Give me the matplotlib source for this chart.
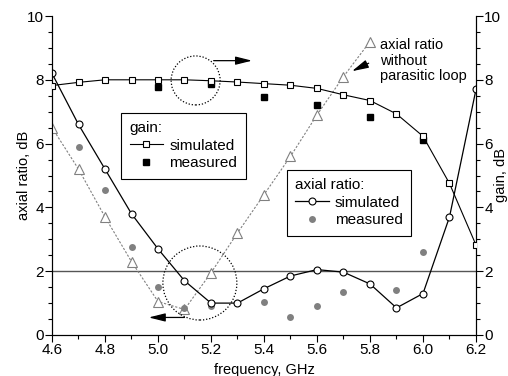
import matplotlib
matplotlib.use("Agg")
import matplotlib.pyplot as plt
from matplotlib.lines import Line2D
from matplotlib.patches import Ellipse

plt.rcParams['font.family'] = ['Liberation Sans', 'DejaVu Sans']

freq = [4.6, 4.7, 4.8, 4.9, 5.0, 5.1, 5.2, 5.3, 5.4, 5.5, 5.6, 5.7, 5.8, 5.9, 6.0, 6.1, 6.2]
ar_sim = [8.2, 6.6, 5.2, 3.8, 2.7, 1.7, 1.0, 1.0, 1.45, 1.85, 2.05, 1.97, 1.6, 0.85, 1.3, 3.7, 7.7]

freq_ar_meas = [4.7, 4.8, 4.9, 5.0, 5.1, 5.2, 5.3, 5.4, 5.5, 5.6, 5.7, 5.8, 5.9, 6.0]
ar_meas = [5.9, 4.55, 2.75, 1.5, 0.85, 0.9, 1.0, 1.05, 0.55, 0.92, 1.35, 1.6, 1.4, 2.6]

freq_noloop = [4.6, 4.7, 4.8, 4.9, 5.0, 5.1, 5.2, 5.3, 5.4, 5.5, 5.6, 5.7, 5.8]
ar_noloop = [6.5, 5.2, 3.7, 2.3, 1.05, 0.8, 1.95, 3.2, 4.4, 5.6, 6.9, 8.1, 9.2]

gain_sim = [7.82, 7.92, 8.0, 8.0, 8.0, 8.0, 7.97, 7.93, 7.88, 7.83, 7.73, 7.53, 7.35, 6.93, 6.23, 4.75, 2.82]

freq_gain_meas = [5.0, 5.2, 5.4, 5.6, 5.8, 6.0]
gain_meas = [7.77, 7.87, 7.47, 7.22, 6.82, 6.1]

xticks = [4.6, 4.8, 5.0, 5.2, 5.4, 5.6, 5.8, 6.0, 6.2]
yticks = [0, 2, 4, 6, 8, 10]

fig = plt.figure(figsize=(5.08, 3.76), dpi=100)
ax = fig.add_axes([52/508, 41/376, 424/508, 319/376])
ax2 = ax.twinx()

gray = '#808080'
ax.axhline(2, color='#555555', lw=1.0, zorder=1)

ax.plot(freq_noloop, ar_noloop, ls=(0, (2, 1.5)), color=gray, lw=0.8,
        marker='^', ms=6.5, mfc='white', mec=gray, mew=0.8, zorder=3)
ax.plot(freq, ar_sim, '-', color='black', lw=0.9,
        marker='o', ms=5, mfc='white', mec='black', mew=0.8, zorder=5)
ax.plot(freq_ar_meas, ar_meas, 'o', color=gray, ms=5, mec='none', zorder=4)

ax2.plot(freq, gain_sim, '-', color='black', lw=0.8,
         marker='s', ms=4, mfc='white', mec='black', mew=0.8, zorder=5)
ax2.plot(freq_gain_meas, gain_meas, 's', color='black', ms=4.5, zorder=4)

for a in (ax, ax2):
    a.set_xlim(4.6, 6.2)
    a.set_ylim(0, 10)
    a.set_yticks(yticks)
    a.set_yticks([i * 0.5 for i in range(21)], minor=True)
    a.tick_params(axis='both', which='major', direction='out', length=5, width=0.8, labelsize=11, pad=1)
    a.tick_params(axis='both', which='minor', direction='out', length=3, width=0.8)
    for s in a.spines.values():
        s.set_linewidth(0.8)
ax.set_xticks(xticks)
ax.set_xticklabels(['%.1f' % t for t in xticks])
ax.set_xticks([4.6 + 0.1 * i for i in range(17)], minor=True)
ax.set_yticklabels([str(t) for t in yticks])
ax2.set_yticklabels([str(t) for t in yticks])
ax.spines['top'].set_visible(False)
ax2.spines['top'].set_visible(False)

ax.set_xlabel('frequency, GHz', fontsize=10.5, labelpad=4)
ax.set_ylabel('axial ratio, dB', fontsize=10.5)
ax2.set_ylabel('gain, dB', fontsize=10.5)
ax.yaxis.set_label_coords(-0.0495, 0.5)
ax2.yaxis.set_label_coords(1.0425, 0.5)

# dotted circles
ax2.add_patch(Ellipse((5.142, 7.98), 2 * 24.5 / 265, 2 * 24.5 / 31.9, fill=False,
                      ls=(0, (1, 1.5)), lw=0.9, color='black', zorder=6))
ax.add_patch(Ellipse((5.158, 1.63), 2 * 37 / 265, 2 * 37 / 31.9, fill=False,
                     ls=(0, (1, 1.5)), lw=0.9, color='black', zorder=6))

arrow = dict(arrowstyle='-|>,head_length=1.0,head_width=0.25', color='black', lw=0.9, shrinkA=0, shrinkB=0)
ax2.annotate('', xy=(5.355, 8.6), xytext=(5.21, 8.6), arrowprops=arrow)
ax.annotate('', xy=(4.965, 0.55), xytext=(5.10, 0.55), arrowprops=arrow)
ax.annotate('', xy=(5.732, 8.27), xytext=(5.795, 8.52), arrowprops=arrow)
ax.text(5.837, 9.3, 'axial ratio\nwithout\nparasitic loop', fontsize=10.5, va='top', ha='left',
        linespacing=1.12)

# legends
common = dict(alignment='left', loc='upper left', borderaxespad=0,
              fontsize=11, title_fontsize=11, fancybox=False, framealpha=1,
              edgecolor='black', handlelength=2.2, handletextpad=0.4,
              borderpad=0.55, labelspacing=0.22)

h_gs = Line2D([], [], color='black', lw=0.8, marker='s', ms=4, mfc='white', mec='black', mew=0.8)
h_gm = Line2D([], [], color='black', lw=0, marker='s', ms=4.5)
leg1 = ax.legend([h_gs, h_gm], ['simulated', 'measured'], title='gain:',
                 bbox_to_anchor=(0.163, 0.696), **common)
leg1.get_frame().set_linewidth(0.8)
leg1.set_zorder(10)
ax.add_artist(leg1)

h_as = Line2D([], [], color='black', lw=0.9, marker='o', ms=5, mfc='white', mec='black', mew=0.8)
h_am = Line2D([], [], color=gray, lw=0, marker='o', ms=5, mec='none')
leg2 = ax.legend([h_as, h_am], ['simulated', 'measured'], title='axial ratio:',
                 bbox_to_anchor=(0.554, 0.517), **common)
leg2.get_frame().set_linewidth(0.8)
leg2.set_zorder(10)

fig.savefig('out.png', dpi=100)
